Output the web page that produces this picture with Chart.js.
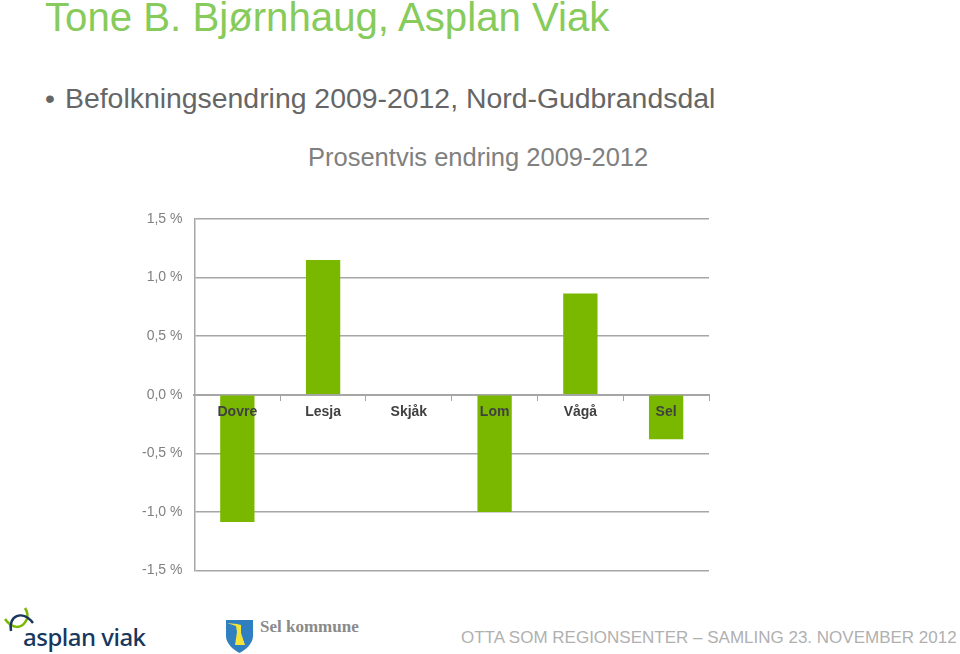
<!DOCTYPE html>
<html lang="no">
<head>
<meta charset="utf-8">
<title>Befolkningsendring 2009-2012</title>
<script src="https://cdn.jsdelivr.net/npm/chart.js@4/dist/chart.umd.min.js"></script>
<style>
  html, body { margin: 0; padding: 0; background: #fff; }
  body { position: relative; width: 960px; height: 654px; overflow: hidden; font-family: "Liberation Sans", Arial, sans-serif; }
  .txt { position: absolute; white-space: nowrap; line-height: 1; }
  #slide-title { left: 45px; top: -2px; font-size: 40.2px; color: #86cb5b; }
  #bullet { left: 45px; top: 84px; font-size: 28.4px; color: #666; }
  #bullet-text { left: 65px; top: 84px; font-size: 28.4px; color: #666; }
  #chart-title { left: 308px; top: 145px; font-size: 25.5px; color: #808080; }
  #chart-box { position: absolute; left: 130px; top: 141px; width: 726px; height: 450px; }
  #sel-text { left: 260px; top: 617px; font: bold 17px "Liberation Serif", serif; color: #8a8a8a; }
  #asplan-text { left: 23px; top: 620px; font: 500 24px "Noto Sans", sans-serif; color: #17375e; letter-spacing: -0.5px; }
  #footer { left: 461px; top: 629px; font-size: 17px; color: #b0b0b0; }
  svg { position: absolute; }
</style>
</head>
<body>
<div class="txt" id="slide-title">Tone B. Bjørnhaug, Asplan Viak</div>
<div class="txt" id="bullet">•</div>
<div class="txt" id="bullet-text">Befolkningsendring 2009-2012, Nord-Gudbrandsdal</div>
<div class="txt" id="chart-title">Prosentvis endring 2009-2012</div>
<div id="chart-box"><canvas id="endring-chart"></canvas></div>

<svg style="left:2px;top:604px" width="34" height="36" viewBox="0 0 34 36">
  <path d="M3 15 C10 25 20 26 25 15 C26 11 25 7 23 4" fill="none" stroke="#7ab800" stroke-width="2.5"/>
  <path d="M9 27 C6 12 20 5 31 19" fill="none" stroke="#17375e" stroke-width="2.5"/>
</svg>
<div class="txt" id="asplan-text">asplan viak</div>
<svg style="left:226px;top:620px" width="27" height="33" viewBox="0 0 27 33">
  <path d="M0 0 H27 V16 C27 24 19 30 13.5 33 C8 30 0 24 0 16 Z" fill="#2f7fc1"/>
  <path d="M1 3 L11 4 L15 5 L15 13 L19 25 L9 25 L11 12 L10 6 Z" fill="#f3e33b"/>
</svg>
<div class="txt" id="sel-text">Sel kommune</div>
<div class="txt" id="footer">OTTA SOM REGIONSENTER – SAMLING 23. NOVEMBER 2012</div>

<script>
const kommuner = ['Dovre', 'Lesja', 'Skjåk', 'Lom', 'Vågå', 'Sel'];
const endringProsent = [-1.085, 1.15, 0, -1.0, 0.865, -0.38];

function formatProsent(value) {
  return value.toFixed(1).replace('.', ',') + ' %';
}

const ctx = document.getElementById('endring-chart');

new Chart(ctx, {
  type: 'bar',
  data: {
    labels: kommuner,
    datasets: [{
      label: 'Prosentvis endring 2009-2012',
      data: endringProsent,
      backgroundColor: '#7ab800',
      barPercentage: 0.4,
      categoryPercentage: 1
    }]
  },
  options: {
    responsive: true,
    maintainAspectRatio: false,
    animation: false,
    layout: { padding: { left: 0, right: 147, top: 78, bottom: 19 } },
    plugins: {
      legend: { display: false },
      tooltip: { enabled: false }
    },
    scales: {
      x: {
        position: { y: 0 },
        grid: { drawOnChartArea: false, color: '#a6a6a6', tickLength: 5 },
        border: { color: '#a6a6a6', width: 2 },
        ticks: {
          z: 1,
          color: '#404040',
          padding: 4,
          maxRotation: 0,
          font: { family: '"Liberation Sans", Arial, sans-serif', size: 14, weight: 'bold' }
        }
      },
      y: {
        min: -1.5,
        max: 1.5,
        grid: { color: '#a6a6a6', lineWidth: 1.5, drawTicks: false },
        border: { color: '#a6a6a6', width: 1.5 },
        ticks: {
          stepSize: 0.5,
          color: '#808080',
          padding: 12,
          font: { family: '"Liberation Sans", Arial, sans-serif', size: 14 },
          callback: formatProsent
        }
      }
    }
  }
});
</script>
</body>
</html>
